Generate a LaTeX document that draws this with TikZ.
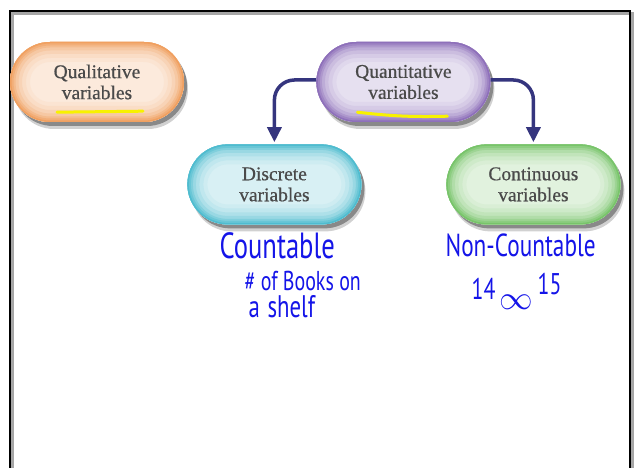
\documentclass[tikz,border=0pt]{standalone}
\usepackage{graphicx}
\usepackage{fontspec}
\setmainfont{Liberation Serif}
\newfontfamily\boxfont{Liberation Serif}[FakeBold=0.6]
\newfontfamily\handfont{PT Sans}
\newcommand{\tallink}[1]{\scalebox{0.95}[1.3]{#1}}
\usetikzlibrary{arrows.meta, positioning, shadows}

\definecolor{qualorange}{HTML}{F0A060}
\definecolor{quantpurple}{HTML}{8E70BA}
\definecolor{disccyan}{HTML}{4FBCCF}
\definecolor{contgreen}{HTML}{78C46A}
\definecolor{arrowblue}{HTML}{35357E}
\definecolor{boxtext}{HTML}{4A4A4A}
\definecolor{inkblue}{HTML}{1414E8}
\definecolor{markyellow}{HTML}{F8F200}

\begin{document}
\begin{tikzpicture}[
x=1pt,y=1pt,
pill/.style={
rectangle,
rounded corners=40pt,
minimum width=174pt,
minimum height=80pt,
align=center,
font=\boxfont\fontsize{19.5}{21}\selectfont,
text=boxtext,
fill=#1!22!white,
drop shadow={shadow xshift=4pt,shadow yshift=-7pt,fill=black!60,opacity=.3},
drop shadow={shadow xshift=3pt,shadow yshift=-4pt,fill=black!80,opacity=.45},
path picture={
\foreach \w/\t in {40/28,32/36,24/46,17/58,11/72,7/85,3/100}
\draw[#1!\t!white,line width=\w pt,rounded corners=40pt]
(path picture bounding box.south west) rectangle (path picture bounding box.north east);
}
},
arrow/.style={-{Triangle[width=14pt,length=15pt]},line width=3.5pt,arrowblue,rounded corners=20pt,shorten >=2pt},
underline/.style={markyellow,line width=3pt,line cap=round},
hand/.style={text=inkblue,inner sep=0pt,font=\handfont\fontsize{26}{28}\selectfont}
]
\useasboundingbox (0,0) rectangle (635,468);

% Frame
\draw[line width=3pt,black!35] (12.5,0) -- (12.5,454.5) -- (632.5,454.5) -- (632.5,0);
\draw[line width=2.5pt] (10,0) -- (10,457) -- (630,457) -- (630,0);

% Top row
\node[pill=qualorange] (qual) at (97,386) {Qualitative\\variables};
\node[pill=quantpurple,right=132pt of qual] (quant) {Quantitative\\variables};

% Bottom row
\node[pill=disccyan,anchor=north] (disc)
at ([xshift=-129pt,yshift=-22pt]quant.south) {Discrete\\variables};
\node[pill=contgreen,anchor=north] (cont)
at ([xshift=130pt,yshift=-22pt]quant.south) {Continuous\\variables};

% Arrows
\draw[arrow] ([yshift=2pt]quant.west) -| (disc.north);
\draw[arrow] ([yshift=2pt]quant.east) -| (cont.north);

% Yellow marks
\draw[underline] ([xshift=-40pt,yshift=10pt]qual.south) -- ([xshift=46pt,yshift=11pt]qual.south);
\draw[underline] ([xshift=-46pt,yshift=10pt]quant.south) to[bend right=4] ([xshift=44pt,yshift=6pt]quant.south);

% Handwriting
\node[hand,anchor=north west,font=\handfont\fontsize{28}{30}\selectfont] (countable)
at ([xshift=-55pt,yshift=-8pt]disc.south) {\tallink{Countable}};
\node[hand,anchor=north west,font=\handfont\fontsize{21}{26}\selectfont] (books)
at ([xshift=-30pt,yshift=-46pt]disc.south) {\tallink{\# of Books on}};
\node[hand,anchor=north west,font=\handfont\fontsize{24}{26}\selectfont] (shelf)
at ([xshift=-26pt,yshift=-71pt]disc.south) {\tallink{a\,\,shelf}};
\node[hand,anchor=north west,font=\handfont\fontsize{24.5}{26}\selectfont] (noncount)
at ([xshift=-88pt,yshift=-9pt]cont.south) {\tallink{Non-Countable}};
\node[hand,anchor=north west,font=\handfont\fontsize{23}{26}\selectfont] (low)
at ([xshift=-62pt,yshift=-53pt]cont.south) {\tallink{14}};
\node[hand,anchor=north west] (infty)
at ([xshift=-34pt,yshift=-70pt]cont.south) {\scalebox{1.35}{$\infty$}};
\node[hand,anchor=north west,font=\handfont\fontsize{23}{26}\selectfont] (high)
at ([xshift=4pt,yshift=-48pt]cont.south) {\tallink{15}};

\end{tikzpicture}
\end{document}
